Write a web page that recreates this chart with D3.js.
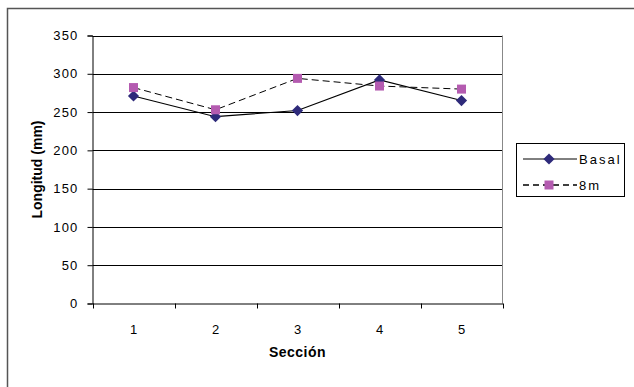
<!DOCTYPE html>
<html><head><meta charset="utf-8">
<script src="https://cdn.jsdelivr.net/npm/d3@7"></script>
<style>
body{margin:0;background:#fff;}
svg{display:block;font-family:"Liberation Sans",Arial,sans-serif;}
</style></head>
<body>
<svg id="c" width="634" height="387"></svg>
<script>
const categories = ["1","2","3","4","5"];
const basal = [271, 244, 252, 292, 265];
const m8 = [282, 253, 294, 284, 280];
const yTicks = [0,50,100,150,200,250,300,350];
const seriesNames = ["Basal","8m"];

const svg = d3.select("#c");
// outer border
svg.append("rect").attr("x",7.5).attr("y",8.5).attr("width",640).attr("height",400)
  .attr("fill","#fff").attr("stroke","#555").attr("stroke-width",1.5);

const L=92.5, R=502.5, T=35.5, B=303.5;
const x = d3.scaleBand().domain(categories).range([L,R]);
const y = d3.scaleLinear().domain([0,350]).range([B,T]);

// gridlines
svg.append("g").selectAll("line").data(yTicks.filter(d=>d>0)).join("line")
  .attr("x1",L).attr("x2",R).attr("y1",d=>Math.round(y(d))+0.5).attr("y2",d=>Math.round(y(d))+0.5)
  .attr("stroke","#000").attr("stroke-width",1);
// right border of plot area
svg.append("line").attr("x1",R).attr("x2",R).attr("y1",T).attr("y2",B).attr("stroke","#888");

// y axis
const ya = svg.append("g").attr("transform",`translate(${L},0)`)
  .call(d3.axisLeft(y).tickValues(yTicks).tickSize(5).tickPadding(9));
ya.select(".domain").attr("stroke","#000");
ya.selectAll("text").attr("font-size",13).attr("fill","#000").style("letter-spacing","1.2px")
  .attr("font-family","'Liberation Sans',Arial,sans-serif");

// x axis
const xa = svg.append("g").attr("transform",`translate(0,${B})`)
  .call(d3.axisBottom(x).tickSize(0).tickPadding(21.5));
xa.select(".domain").attr("stroke","#000");
xa.selectAll("text").attr("font-size",13).attr("fill","#000")
  .attr("font-family","'Liberation Sans',Arial,sans-serif");
const bounds = categories.map(c=>x(c)).concat([R]);
xa.selectAll(".bt").data(bounds).join("line").attr("class","bt")
  .attr("x1",d=>Math.round(d)+0.5).attr("x2",d=>Math.round(d)+0.5).attr("y1",0).attr("y2",5).attr("stroke","#000");

// axis titles
svg.append("text").attr("x",(L+R)/2).attr("y",357).attr("text-anchor","middle")
  .attr("font-weight","bold").attr("font-size",14).style("letter-spacing","0.5px").text("Sección");
svg.append("text").attr("transform",`translate(42,${(T+B)/2}) rotate(-90)`).attr("text-anchor","middle")
  .attr("font-weight","bold").attr("font-size",14).text("Longitud (mm)");

const cx = c=>x(c)+x.bandwidth()/2;
const line = d3.line().x((d,i)=>cx(categories[i])).y(d=>y(d));

// 8m series
svg.append("path").datum(m8).attr("d",line).attr("fill","none").attr("stroke","#000")
  .attr("stroke-width",1).attr("stroke-dasharray","7,4");
// Basal series
svg.append("path").datum(basal).attr("d",line).attr("fill","none").attr("stroke","#000").attr("stroke-width",1.1);

const diamond = d3.symbol().type(d3.symbolDiamond2).size(80);
svg.append("g").selectAll("path").data(basal).join("path")
  .attr("d",diamond).attr("transform",(d,i)=>`translate(${cx(categories[i])},${y(d)})`)
  .attr("fill","#2E2A7A");
svg.append("g").selectAll("rect").data(m8).join("rect")
  .attr("x",(d,i)=>cx(categories[i])-4.5).attr("y",d=>y(d)-4.5).attr("width",9).attr("height",9)
  .attr("fill","#B45BB0");

// legend
const lg = svg.append("g");
lg.append("rect").attr("x",516.5).attr("y",143.5).attr("width",108).attr("height",53)
  .attr("fill","#fff").attr("stroke","#000");
const rows=[159,185];
lg.append("line").attr("x1",523).attr("x2",577).attr("y1",rows[0]).attr("y2",rows[0]).attr("stroke","#000");
lg.append("path").attr("d",diamond).attr("transform",`translate(549,${rows[0]})`).attr("fill","#2E2A7A");
lg.append("line").attr("x1",523).attr("x2",577).attr("y1",rows[1]).attr("y2",rows[1]).attr("stroke","#000")
  .attr("stroke-width",1.5).attr("stroke-dasharray","6,4");
lg.append("rect").attr("x",544.5).attr("y",rows[1]-4.5).attr("width",9).attr("height",9).attr("fill","#B45BB0");
lg.selectAll("text").data(seriesNames).join("text").attr("x",579).attr("y",(d,i)=>rows[i]+5)
  .attr("font-size",13).style("letter-spacing","2px").text(d=>d);
</script>
</body></html>
